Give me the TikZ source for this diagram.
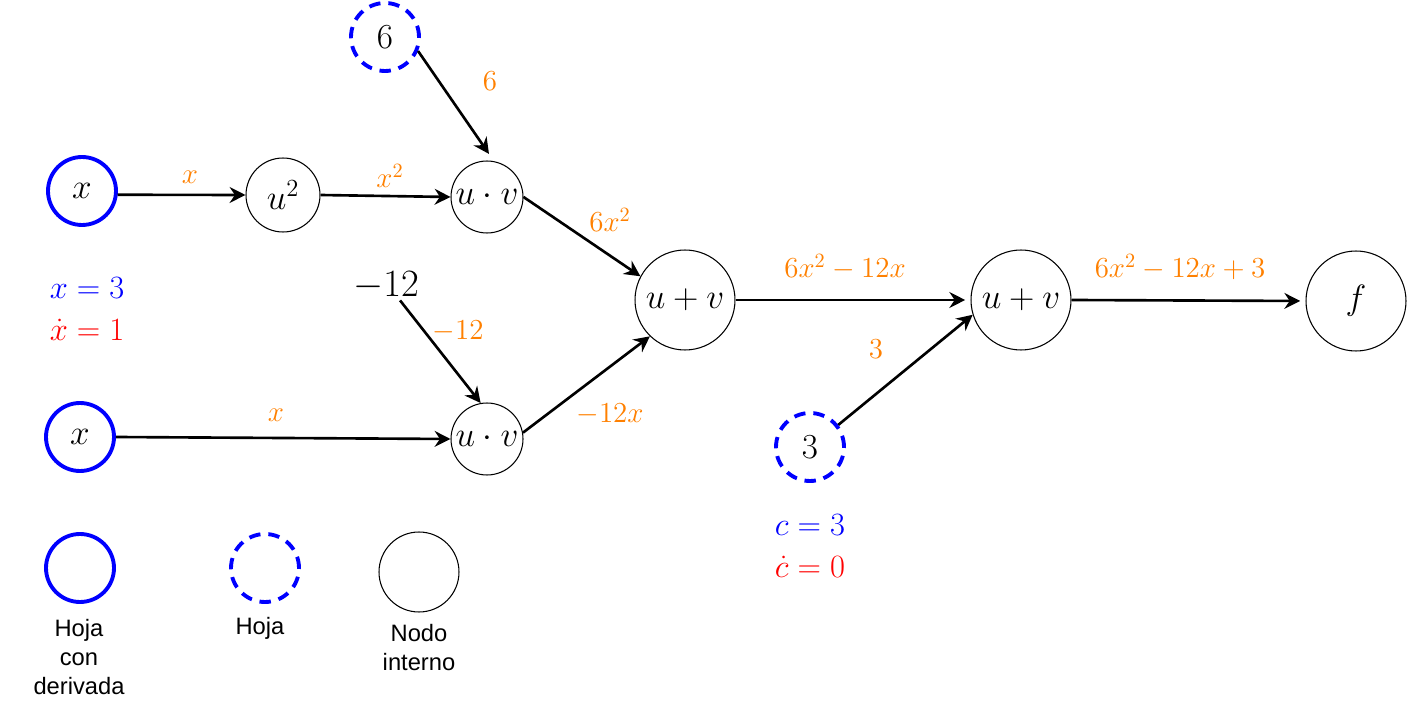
\RequirePackage{fix-cm}
\documentclass[tikz,border=0pt]{standalone}
\usepackage{fontspec}
\newfontfamily\legendfont{Liberation Sans}
\usetikzlibrary{arrows.meta}
\definecolor{leafblue}{RGB}{0,0,255}
\definecolor{gradorange}{RGB}{255,128,0}
\definecolor{dotred}{RGB}{255,0,0}

\tikzset{
  nodefont/.style={font=\fontsize{20}{24}\selectfont},
  leafd/.style={circle, draw=leafblue, line width=2.2pt, minimum size=1.36cm, inner sep=0pt, nodefont},
  leafc/.style={leafd, dash pattern=on 6.5pt off 4.5pt},
  opnode/.style={circle, draw=black, line width=0.6pt, minimum size=1.44cm, inner sep=0pt, nodefont},
  bigop/.style={opnode, minimum size=2cm},
  flow/.style={-{Stealth[length=9pt,width=9pt,inset=3pt]}, line width=1.5pt},
  grad/.style={text=gradorange, font=\fontsize{16.5}{19}\selectfont, inner sep=0pt},
  val/.style={font=\fontsize{18.5}{24.4}\selectfont, inner sep=0pt, align=left},
  legend/.style={font=\legendfont\fontsize{13.5}{16.5}\selectfont, align=center, inner sep=0pt},
}

\begin{document}
\begin{tikzpicture}[x=0.02cm, y=-0.02cm]
  \useasboundingbox (0,0) rectangle (1407,702);

  % leaves and operation nodes
  \node[leafd] (x1) at (82,191) {$x$};
  \node[opnode, minimum size=1.48cm] (sq) at (283,195) {$u^2$};
  \node[leafc] (six) at (385,37) {$6$};
  \node[opnode] (m1) at (487,197) {$u\cdot v$};
  \node[font=\fontsize{22}{26}\selectfont, inner sep=0pt] (c12) at (386,286) {$-12$};
  \node[leafd] (x2) at (80,437) {$x$};
  \node[opnode] (m2) at (487,439) {$u\cdot v$};
  \node[bigop] (s1) at (685,300) {$u+v$};
  \node[leafc] (three) at (810,447) {$3$};
  \node[bigop] (s2) at (1021,300) {$u+v$};
  \node[bigop] (f) at (1356,301) {$f$};

  % forward connections
  \draw[flow] (x1.-6) -- (sq.west);
  \draw[flow] (sq.east) -- (m1.west);
  \draw[flow, shorten >=5pt] (six.-23) -- (m1.79);
  \draw[flow] (m1.east) -- (s1.152);
  \draw[flow] ([xshift=8pt]c12.south) -- (m2.100);
  \draw[flow] (x2.east) -- (m2.west);
  \draw[flow] (m2.10) -- (s1.226);
  \draw[flow, shorten >=3pt] (s1.east) -- (s2.west);
  \draw[flow] (three.38) -- (s2.197);
  \draw[flow, shorten >=3pt] (s2.east) -- (f.west);

  % values carried along the edges
  \node[grad] (g1) at (190,177) {$x$};
  \node[grad] (g2) at (390,176) {$x^2$};
  \node[grad] (g3) at (490,81) {$6$};
  \node[grad] (g4) at (610,220) {$6x^2$};
  \node[grad] (g5) at (458,331) {$-12$};
  \node[grad] (g6) at (276,415) {$x$};
  \node[grad] (g7) at (610,414) {$-12x$};
  \node[grad] (g8) at (845,267) {$6x^2-12x$};
  \node[grad] (g9) at (876,349) {$3$};
  \node[grad] (g10) at (1180,267) {$6x^2-12x+3$};

  % leaf values and derivatives
  \node[val] (xv) at (87,309) {\textcolor{leafblue}{$x=3$}\\\textcolor{dotred}{$\dot{x}=1$}};
  \node[val] (cv) at (810,546) {\textcolor{leafblue}{$c=3$}\\\textcolor{dotred}{$\dot{c}=0$}};

  % legend
  \node[leafd] (k1) at (80,568) {};
  \node[leafc] (k2) at (265,568) {};
  \node[opnode, minimum size=1.6cm] (k3) at (419,572) {};
  \node[legend] (t1) at (79,657) {Hoja\\con\\derivada};
  \node[legend] (t2) at (260,628) {Hoja};
  \node[legend] (t3) at (419,648) {Nodo\\interno};
\end{tikzpicture}
\end{document}
